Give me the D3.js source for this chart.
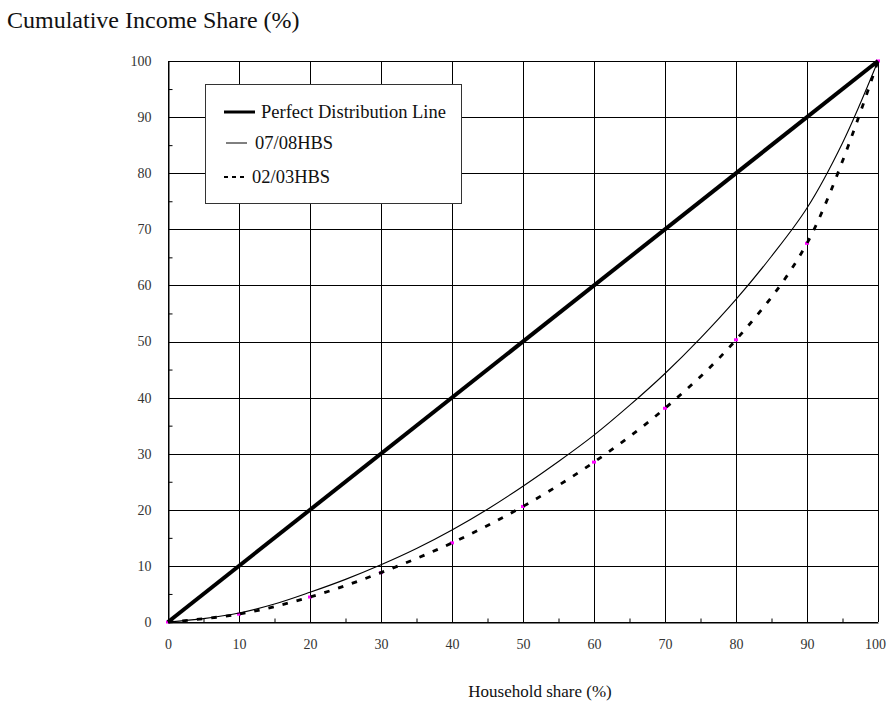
<!DOCTYPE html>
<html>
<head>
<meta charset="utf-8">
<script src="https://cdn.jsdelivr.net/npm/d3@7"></script>
<style>
  html, body { margin: 0; padding: 0; background: #fff; }
  svg { display: block; }
  text { font-family: "Liberation Serif", "Times New Roman", serif; }
</style>
</head>
<body>
<svg id="chart" width="887" height="702"></svg>
<script>
// ---- Data ----
const xTicks = [0, 10, 20, 30, 40, 50, 60, 70, 80, 90, 100];
const yTicks = [0, 10, 20, 30, 40, 50, 60, 70, 80, 90, 100];
const minorTicks = [5, 15, 25, 35, 45, 55, 65, 75, 85, 95];

const perfectX = [0, 100];
const perfectY = [0, 100];

const hbs0708X = [0, 5, 10, 15, 20, 25, 30, 35, 40, 45, 50, 55, 60, 65, 70, 75, 80, 85, 90, 95, 100];
const hbs0708Y = [0, 0.6, 1.6, 3.2, 5.3, 7.6, 10.2, 13.1, 16.4, 20.1, 24.2, 28.6, 33.3, 38.6, 44.3, 50.6, 57.5, 65.2, 73.8, 85.4, 100];

const hbs0203X = [0, 10, 20, 30, 40, 50, 60, 70, 80, 90, 100];
const hbs0203Y = [0, 1.4, 4.45, 8.8, 14.1, 20.6, 28.5, 38.1, 50.3, 67.5, 100];

const legendLabels = ["Perfect Distribution Line", "07/08HBS", "02/03HBS"];
const yTitle = "Cumulative Income Share (%)";
const xTitle = "Household share (%)";

// ---- Layout ----
const FONT = '"Liberation Serif", "Times New Roman", serif';
const svg = d3.select("#chart");
const x = d3.scaleLinear().domain([0, 100]).range([168, 878]);
const y = d3.scaleLinear().domain([0, 100]).range([622, 61]);

// grid lines
const gGrid = svg.append("g");
gGrid.selectAll("line.v").data(xTicks).join("line")
  .attr("x1", d => Math.round(x(d)) + 0.5).attr("x2", d => Math.round(x(d)) + 0.5)
  .attr("y1", y(0)).attr("y2", y(100))
  .attr("stroke", "#000").attr("stroke-width", 1);
gGrid.selectAll("line.h").data(yTicks).join("line")
  .attr("y1", d => Math.round(y(d)) + 0.5).attr("y2", d => Math.round(y(d)) + 0.5)
  .attr("x1", x(0)).attr("x2", x(100))
  .attr("stroke", "#000").attr("stroke-width", 1);

// axes with labels
const xAxis = svg.append("g")
  .attr("transform", `translate(0,${Math.round(y(0)) + 0.5})`)
  .call(d3.axisBottom(x).tickValues(xTicks).tickSize(0).tickPadding(17).tickFormat(d3.format("d")));
xAxis.select(".domain").attr("stroke", "#000");
xAxis.selectAll("text").attr("font-size", 14).attr("fill", "#333").style("font-family", FONT)
  .attr("dx", d => d === 100 ? -3 : 0);

const yAxis = svg.append("g")
  .attr("transform", `translate(${Math.round(x(0)) + 0.5},0)`)
  .call(d3.axisLeft(y).tickValues(yTicks).tickSize(0).tickPadding(17).tickFormat(d3.format("d")));
yAxis.select(".domain").attr("stroke", "#000");
yAxis.selectAll("text").attr("font-size", 14).attr("fill", "#333").style("font-family", FONT);

// minor ticks (inward)
svg.append("g")
  .attr("transform", `translate(0,${Math.round(y(0)) + 0.5})`)
  .call(d3.axisTop(x).tickValues(minorTicks).tickSize(4).tickFormat(""))
  .call(g => g.select(".domain").remove());
svg.append("g")
  .attr("transform", `translate(${Math.round(x(0)) + 0.5},0)`)
  .call(d3.axisRight(y).tickValues(minorTicks).tickSize(4).tickFormat(""))
  .call(g => g.select(".domain").remove());

// right border
svg.append("line")
  .attr("x1", Math.round(x(100)) + 0.5).attr("x2", Math.round(x(100)) + 0.5)
  .attr("y1", y(0)).attr("y2", y(100)).attr("stroke", "#000");

// ---- Series ----
const zip = (xs, ys) => xs.map((v, i) => [v, ys[i]]);

// markers for 02/03 (magenta)
const d0203 = zip(hbs0203X, hbs0203Y);
svg.append("g").selectAll("rect").data(d0203).join("rect")
  .attr("x", d => x(d[0]) - 2).attr("y", d => y(d[1]) - 1.5)
  .attr("width", 4).attr("height", 3)
  .attr("fill", "#ff00ff");

svg.append("path")
  .datum(d0203)
  .attr("d", d3.line().x(d => x(d[0])).y(d => y(d[1])).curve(d3.curveCatmullRom.alpha(0.5)))
  .attr("fill", "none").attr("stroke", "#000")
  .attr("stroke-width", 2.8).attr("stroke-dasharray", "5.5,9");

svg.append("path")
  .datum(zip(hbs0708X, hbs0708Y))
  .attr("d", d3.line().x(d => x(d[0])).y(d => y(d[1])).curve(d3.curveCatmullRom.alpha(0.5)))
  .attr("fill", "none").attr("stroke", "#000").attr("stroke-width", 1.1);

svg.append("path")
  .datum(zip(perfectX, perfectY))
  .attr("d", d3.line().x(d => x(d[0])).y(d => y(d[1])))
  .attr("fill", "none").attr("stroke", "#000").attr("stroke-width", 4);

// ---- Legend ----
const lg = svg.append("g");
lg.append("rect").attr("x", 205.5).attr("y", 84.5).attr("width", 256).attr("height", 119)
  .attr("fill", "#fff").attr("stroke", "#333").attr("stroke-width", 1);
const legendRows = [
  { y: 112, x1: 224, x2: 255, tx: 261, w: 3, dash: null },
  { y: 143, x1: 226, x2: 247, tx: 255, w: 1, dash: null },
  { y: 177, x1: 224, x2: 245, tx: 252, w: 2, dash: "4,4" }
];
legendRows.forEach((r, i) => {
  lg.append("line").attr("x1", r.x1).attr("x2", r.x2).attr("y1", r.y).attr("y2", r.y)
    .attr("stroke", "#000").attr("stroke-width", r.w)
    .attr("stroke-dasharray", r.dash);
  lg.append("text").attr("x", r.tx).attr("y", r.y).attr("dy", "0.35em")
    .attr("font-size", 18.5).attr("fill", "#111").text(legendLabels[i]);
});

// ---- Titles ----
svg.append("text").attr("x", 7).attr("y", 28).attr("font-size", 24).attr("fill", "#111").text(yTitle);
svg.append("text").attr("x", 540).attr("y", 697).attr("text-anchor", "middle")
  .attr("font-size", 17).attr("fill", "#111").text(xTitle);
</script>
</body>
</html>
